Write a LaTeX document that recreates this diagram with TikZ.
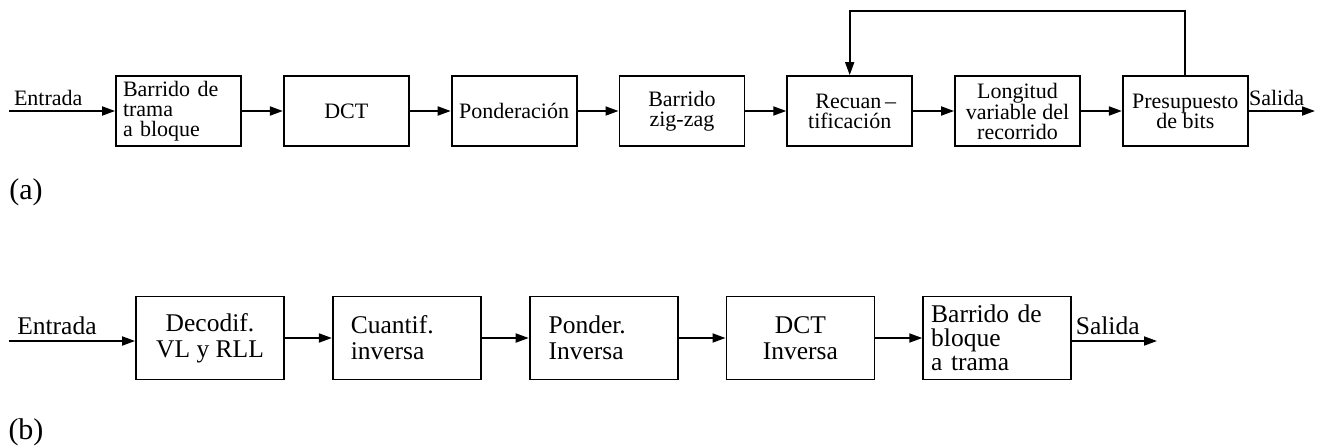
\documentclass[tikz,border=0pt]{standalone}
\usepackage{fontspec}
\setmainfont{Liberation Serif}
\usetikzlibrary{arrows.meta,
                chains,
                positioning}
\tikzset{
      arr/.style = {-{Triangle[length=13pt,width=9pt]}, line width=1.8pt},   % flechas rellenas
     base/.style = {draw, line width=1.8pt, align=center, inner ysep=2pt},
    etapa/.style = {base, minimum width=125pt, minimum height=70pt,
                    font=\fontsize{22}{20}\selectfont},
   bloque/.style = {base, minimum width=148pt, minimum height=83pt,
                    font=\fontsize{25.5}{26}\selectfont},
     labA/.style = {font=\fontsize{22}{24}\selectfont, inner sep=4pt},
     labB/.style = {font=\fontsize{25.5}{28}\selectfont, inner sep=5pt},
   rotulo/.style = {font=\fontsize{30}{36}\selectfont},
        }

\begin{document}
\begin{tikzpicture}[x=1pt, y=-1pt]
\useasboundingbox (0,0) rectangle (1323,445);

% (a) codificador
\begin{scope}[start chain=cod going right, node distance=41pt]
  \node[etapa,on chain=cod,align=left,inner xsep=7pt,text width=111pt] (a1) at (178.5,111)
       {Barrido de\\trama\\a bloque};
  \node[etapa,on chain=cod] (a2) {DCT};
  \node[etapa,on chain=cod] (a3) {Ponderación};
  \node[etapa,on chain=cod] (a4) {Barrido\\zig-zag};
  \node[etapa,on chain=cod] (a5) {\hspace*{12pt}Recuan\,--\\tificación};
  \node[etapa,on chain=cod] (a6) {Longitud\\variable del\\recorrido};
  \node[etapa,on chain=cod] (a7) {Presupuesto\\de bits};
\end{scope}
\coordinate (inA) at (9,111);
\coordinate (outA) at (1315,111);
\coordinate (fbA) at (1000,11);

\draw[arr] (inA) -- node[labA,above,pos=0.37] (entA) {Entrada} (a1);
\draw[arr] (a1) -- (a2);
\draw[arr] (a2) -- (a3);
\draw[arr] (a3) -- (a4);
\draw[arr] (a4) -- (a5);
\draw[arr] (a5) -- (a6);
\draw[arr] (a6) -- (a7);
\draw[arr] (a7) -- node[labA,above,pos=0.42] (salA) {Salida} (outA);
\draw[arr] (a7.north) |- (fbA) -| (a5.north);

\node[rotulo] (ra) at (26,192) {(a)};

% (b) decodificador
\begin{scope}[start chain=dec going right, node distance=47pt]
  \node[bloque,on chain=dec] (b1) at (210,338) {Decodif.\\VL y RLL};
  \node[bloque,on chain=dec,align=left,inner xsep=18pt,text width=112pt] (b2) {Cuantif.\\inversa};
  \node[bloque,on chain=dec,align=left,inner xsep=19pt,text width=110pt] (b3) {Ponder.\\Inversa};
  \node[bloque,on chain=dec] (b4) {DCT\\Inversa};
  \node[bloque,on chain=dec,align=left,inner xsep=8pt,text width=132pt,
        font=\fontsize{25.5}{24}\selectfont] (b5) {Barrido de\\bloque\\a trama};
\end{scope}
\coordinate (inB) at (9,341);
\coordinate (outB) at (1157,341);

\draw[arr] (inB) -- node[labB,above,pos=0.38] (entB) {Entrada} (inB -| b1.west);
\draw[arr] (b1) -- (b2);
\draw[arr] (b2) -- (b3);
\draw[arr] (b3) -- (b4);
\draw[arr] (b4) -- (b5);
\draw[arr] (outB -| b5.east) -- node[labB,above,pos=0.42] (salB) {Salida} (outB);

\node[rotulo] (rb) at (26,432) {(b)};
\end{tikzpicture}
\end{document}
